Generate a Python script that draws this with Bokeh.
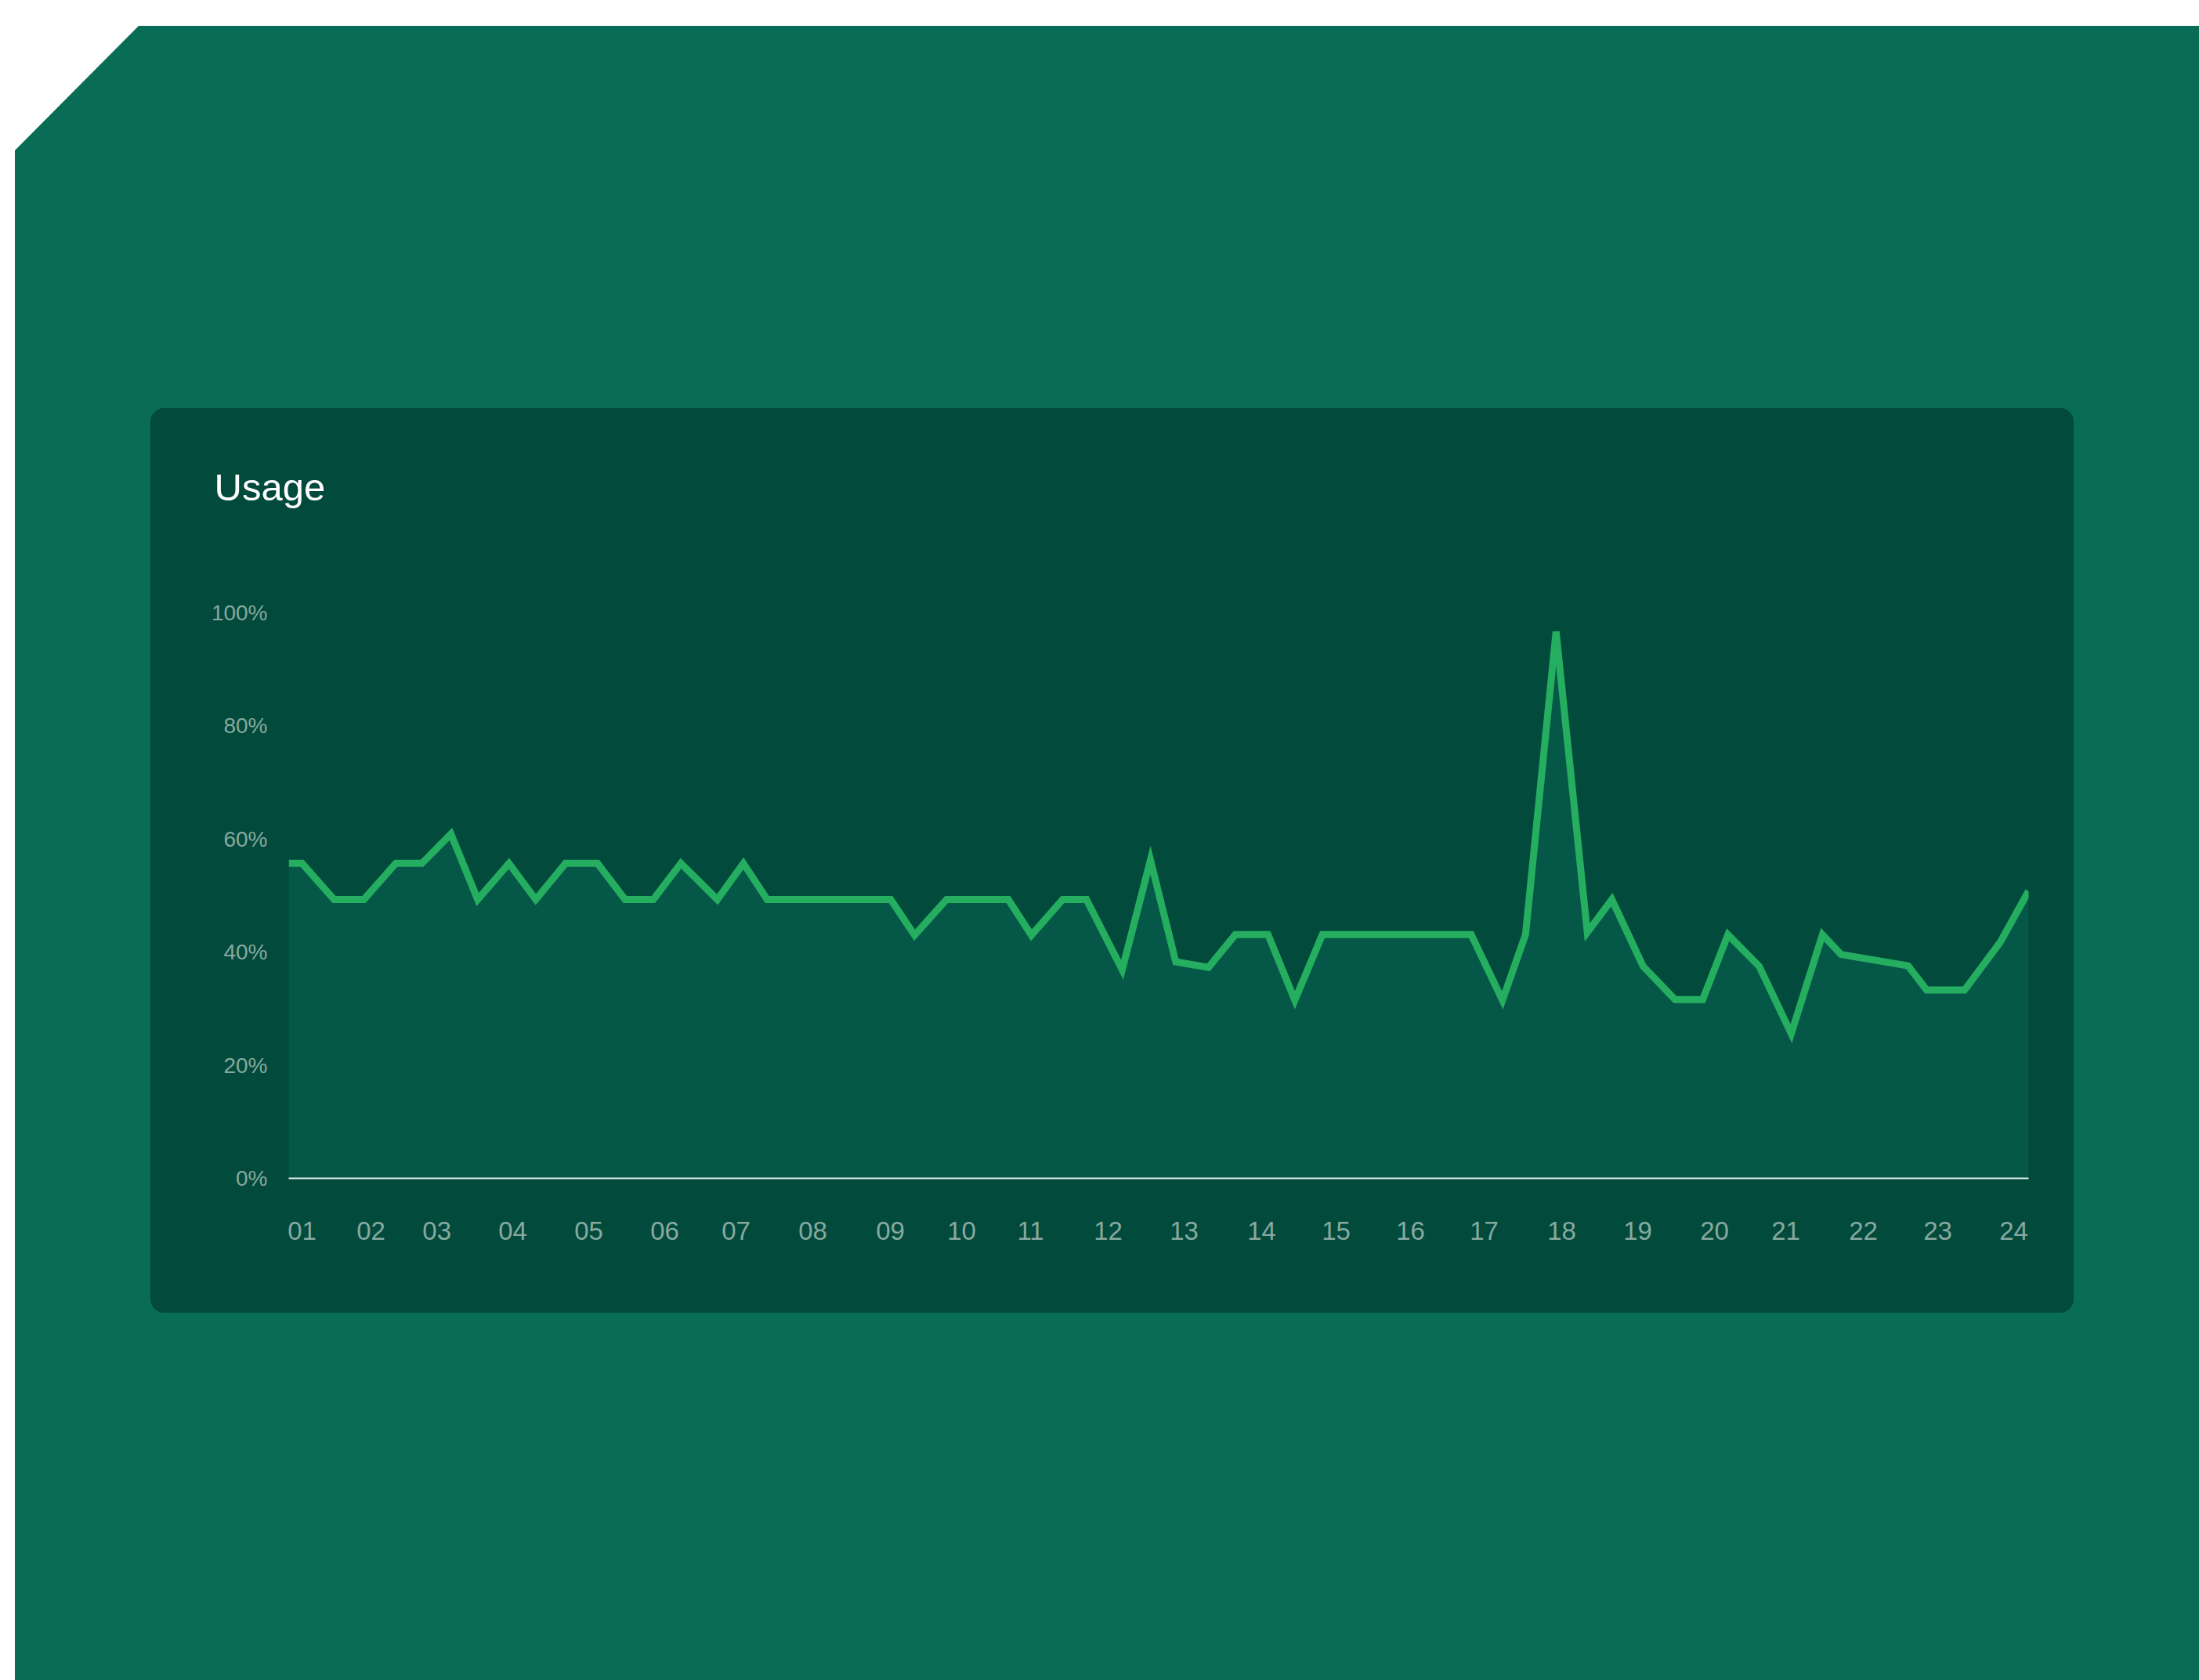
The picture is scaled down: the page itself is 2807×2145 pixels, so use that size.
from bokeh.plotting import figure
from bokeh.layouts import column
from bokeh.models import FixedTicker, PrintfTickFormatter, Range1d, ColumnDataSource
from bokeh.embed import file_html
from bokeh.resources import INLINE

# ---- data (hour of day, usage %) ----
hours = [0.82, 1.00, 1.43, 1.83, 2.26, 2.61, 3.00, 3.36, 3.78, 4.14, 4.54, 4.97,
         5.34, 5.72, 6.09, 6.58, 6.93, 7.25, 8.91, 9.23, 9.66, 10.49, 10.80, 11.22,
         11.54, 12.02, 12.40, 12.74, 13.18, 13.54, 13.98, 14.34, 14.71, 16.71, 17.13,
         17.44, 17.85, 18.27, 18.60, 19.02, 19.45, 19.82, 20.16, 20.58, 21.01, 21.43,
         21.68, 22.58, 22.83, 23.34, 23.82, 24.20]
usage = [55.7, 55.7, 49.3, 49.3, 55.7, 55.7, 60.9, 49.3, 55.7, 49.3, 55.7, 55.7,
         49.3, 49.3, 55.7, 49.3, 55.7, 49.3, 49.3, 43.0, 49.3, 49.3, 43.0, 49.3,
         49.3, 36.9, 56.3, 38.3, 37.3, 43.1, 43.1, 31.5, 43.1, 43.1, 31.5,
         43.1, 96.7, 43.5, 49.3, 37.5, 31.6, 31.6, 43.1, 37.5, 25.6, 43.1,
         39.6, 37.6, 33.3, 33.3, 41.8, 50.8]
tick_hours = [1.000, 1.926, 2.811, 3.832, 4.853, 5.874, 6.832, 7.863, 8.905, 9.863,
              10.789, 11.832, 12.853, 13.895, 14.895, 15.895, 16.884, 17.926, 18.947,
              19.979, 20.937, 21.979, 22.979, 24.000]
tick_labels = ["01", "02", "03", "04", "05", "06", "07", "08", "09", "10", "11", "12",
               "13", "14", "15", "16", "17", "18", "19", "20", "21", "22", "23", "24"]
y_ticks = [0, 20, 40, 60, 80, 100]
title_text = "Usage"

# ---- colours ----
OUTER = "#086c56"
CARD = "#024a3c"
AREA = "#055847"
LINE = "#25ae5f"
LABEL = "#86a99f"

PAGE_W, PAGE_H = 2807, 2145
CARD_X, CARD_Y, CARD_W, CARD_H = 192, 521, 2455, 1155
FRAME_L, FRAME_R, FRAME_T, FRAME_B = 176, 2397, 261, 983   # inside the card
EXTRA = 80   # hidden strip above the card that gives the title panel room

peak = usage.index(max(usage))
src_area = ColumnDataSource(dict(h=hours, u=usage, z=[0] * len(hours)))
src_a = ColumnDataSource(dict(h=hours[:peak + 1], u=usage[:peak + 1]))
src_b = ColumnDataSource(dict(h=hours[peak:], u=usage[peak:]))

p = figure(width=CARD_W, height=CARD_H + EXTRA, output_backend="svg",
           toolbar_location=None,
           x_range=Range1d(hours[0], hours[-1]), y_range=Range1d(0, 100),
           min_border_left=FRAME_L, min_border_right=CARD_W - FRAME_R,
           min_border_top=FRAME_T + EXTRA, min_border_bottom=CARD_H - FRAME_B,
           margin=(CARD_Y - EXTRA, 0, 0, CARD_X),
           styles={"clip-path": f"inset({EXTRA}px 0px 0px 0px round 18px)",
                   "background-color": CARD})
p.border_fill_color = CARD
p.background_fill_color = None
p.outline_line_color = None
p.grid.visible = False

p.varea(x="h", y1="z", y2="u", source=src_area, fill_color=AREA, fill_alpha=1)
for s in (src_a, src_b):
    p.line(x="h", y="u", source=s, line_color=LINE, line_width=9, line_join="miter")

# title
p.title.text = title_text
p.title.align = "left"
p.title.vertical_align = "bottom"
p.title.offset = -95
p.title.standoff = 268
p.title.text_font = "Liberation Sans"
p.title.text_font_size = "49px"
p.title.text_font_style = "normal"
p.title.text_color = "white"

# x axis
xa = p.xaxis[0]
xa.ticker = FixedTicker(ticks=tick_hours)
xa.major_label_overrides = {t: l for t, l in zip(tick_hours, tick_labels)}
xa.axis_line_color = "#e6eeeb"
xa.axis_line_width = 2
xa.major_tick_line_color = None
xa.minor_tick_line_color = None
xa.major_tick_out = 0
xa.major_label_standoff = 55
xa.major_label_text_font = "Liberation Sans"
xa.major_label_text_font_size = "33px"
xa.major_label_text_color = LABEL

# y axis
ya = p.yaxis[0]
ya.ticker = FixedTicker(ticks=y_ticks)
ya.formatter = PrintfTickFormatter(format="%d%%")
ya.axis_line_color = None
ya.major_tick_line_color = None
ya.minor_tick_line_color = None
ya.major_tick_out = 0
ya.major_label_standoff = 27
ya.major_label_text_font = "Liberation Sans"
ya.major_label_text_font_size = "28px"
ya.major_label_text_color = LABEL

page = column(p, width=PAGE_W, height=PAGE_H,
              styles={"background-color": OUTER,
                      "clip-path": "polygon(177px 33px, 100% 33px, 100% 100%, "
                                   "19px 100%, 19px 192px)"})

open("out.html", "w").write(file_html(page, INLINE))
